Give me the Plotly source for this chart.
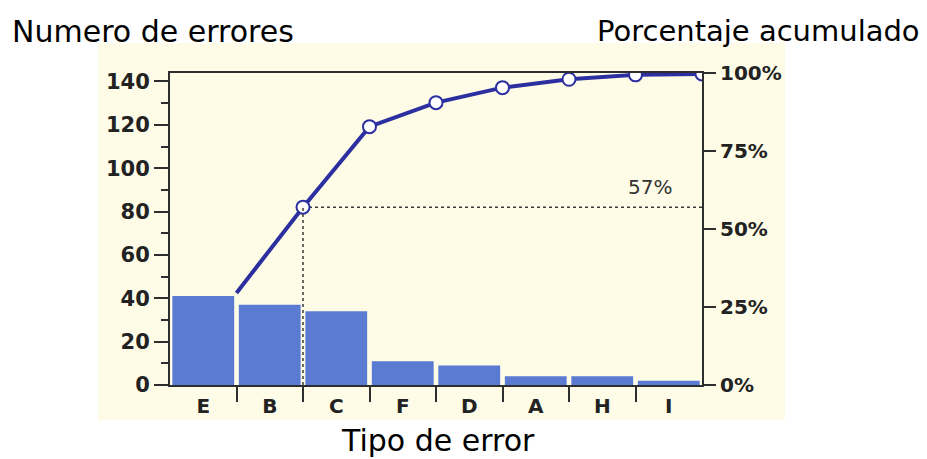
import plotly.graph_objects as go

# ---- data ----
categories = ["E", "B", "C", "F", "D", "A", "H", "I"]
errors = [41, 37, 34, 11, 9, 4, 4, 2]
# cumulative percentage at the right edge of each category
cum_pct = [29.5, 57, 82.8, 90.5, 95.3, 98.0, 99.4, 99.7]
highlight_pct = 57
left_ticks = [0, 20, 40, 60, 80, 100, 120, 140]
right_ticks = [0, 25, 50, 75, 100]
right_ticktext = ["0%", "25%", "50%", "75%", "100%"]

# page body adds an 8px offset; work in reference pixels minus that offset
OFF = 8
W, H = 927 - OFF, 459 - OFF
L, R, T, B = 170 - OFF, 702 - OFF, 73 - OFF, 385 - OFF


def px(x):
    return (x - OFF - L) / (R - L)


def py(y):
    return (B - (y - OFF)) / (B - T)


bar_color = "#5b7bd2"
line_color = "#2b2f9f"
axis_color = "#2e2e2e"
cream = "#fefce7"
tick_font = dict(family="DejaVu Sans", size=20, color="#222222", weight="bold")
left_tick_font = dict(family="DejaVu Sans", size=21, color="#222222", weight="bold")

xs = list(range(len(categories)))
cum_x = [i + 0.5 for i in xs]

fig = go.Figure()
fig.add_trace(go.Bar(
    x=xs, y=errors, width=0.93, marker=dict(color=bar_color, line=dict(width=0)),
    yaxis="y", showlegend=False, hoverinfo="skip"))
fig.add_trace(go.Scatter(
    x=cum_x, y=cum_pct, yaxis="y2", mode="lines+markers",
    line=dict(color=line_color, width=4),
    marker=dict(size=[0] + [13] * (len(cum_pct) - 1), color="#ffffff", opacity=1,
                line=dict(color=line_color, width=2)),
    showlegend=False, hoverinfo="skip"))

# dotted guide lines to the highlighted cumulative point
fig.add_shape(type="line", xref="x", yref="y2", x0=cum_x[1], x1=len(categories) - 0.5,
              y0=highlight_pct, y1=highlight_pct,
              line=dict(color="#3a3a3a", width=1.5, dash="dot"), layer="below")
fig.add_shape(type="line", xref="x", yref="y2", x0=cum_x[1], x1=cum_x[1],
              y0=0, y1=highlight_pct,
              line=dict(color="#3a3a3a", width=1.5, dash="dot"), layer="above")

# cream scanned background
fig.add_shape(type="rect", xref="paper", yref="paper",
              x0=px(98), x1=px(785), y0=py(420), y1=py(43),
              fillcolor=cream, line=dict(width=0), layer="below")

fig.add_annotation(x=6.72, y=63.5, xref="x", yref="y2", text="57%", showarrow=False,
                   font=dict(family="DejaVu Sans", size=20, color="#333333"))
fig.add_annotation(x=px(10), y=py(31), xref="paper", yref="paper", text="Numero de errores",
                   showarrow=False, xanchor="left", yanchor="middle",
                   font=dict(family="DejaVu Sans", size=30, color="black"))
fig.add_annotation(x=px(922), y=py(31), xref="paper", yref="paper", text="Porcentaje acumulado",
                   showarrow=False, xanchor="right", yanchor="middle",
                   font=dict(family="DejaVu Sans", size=29, color="black"))
fig.add_annotation(x=px(438), y=py(440), xref="paper", yref="paper", text="Tipo de error",
                   showarrow=False, xanchor="center", yanchor="middle",
                   font=dict(family="DejaVu Sans", size=30, color="black"))

fig.update_layout(
    width=W, height=H,
    margin=dict(l=L, r=W - R, t=T, b=H - B, pad=0),
    paper_bgcolor="white", plot_bgcolor="rgba(0,0,0,0)",
    xaxis=dict(range=[-0.5, len(categories) - 0.5], tickmode="array", tickvals=xs,
               ticktext=categories, ticks="outside", tickcolor="rgba(0,0,0,0)", ticklen=2,
               showgrid=False, zeroline=False, showline=True, linecolor=axis_color,
               linewidth=2, mirror=True, tickfont=tick_font,
               minor=dict(tickmode="array", tickvals=[i + 0.5 for i in xs[:-1]],
                          ticks="outside", ticklen=15, tickcolor=axis_color, tickwidth=2,
                          showgrid=False)),
    yaxis=dict(range=[0, 143.9], tickmode="array", tickvals=left_ticks, ticks="outside",
               ticklen=14, tickwidth=2, tickcolor=axis_color, showgrid=False, zeroline=False,
               showline=True, linecolor=axis_color, linewidth=2, tickfont=left_tick_font,
               minor=dict(dtick=10, tick0=0, ticks="outside", ticklen=7, tickwidth=2,
                          tickcolor=axis_color, showgrid=False)),
    yaxis2=dict(range=[0, 100], overlaying="y", side="right", tickmode="array",
                tickvals=right_ticks, ticktext=right_ticktext, ticks="outside", ticklen=12,
                tickwidth=2, tickcolor=axis_color, showgrid=False, zeroline=False,
                showline=True, linecolor=axis_color, linewidth=2, tickfont=tick_font),
)

fig.write_html("out.html")
